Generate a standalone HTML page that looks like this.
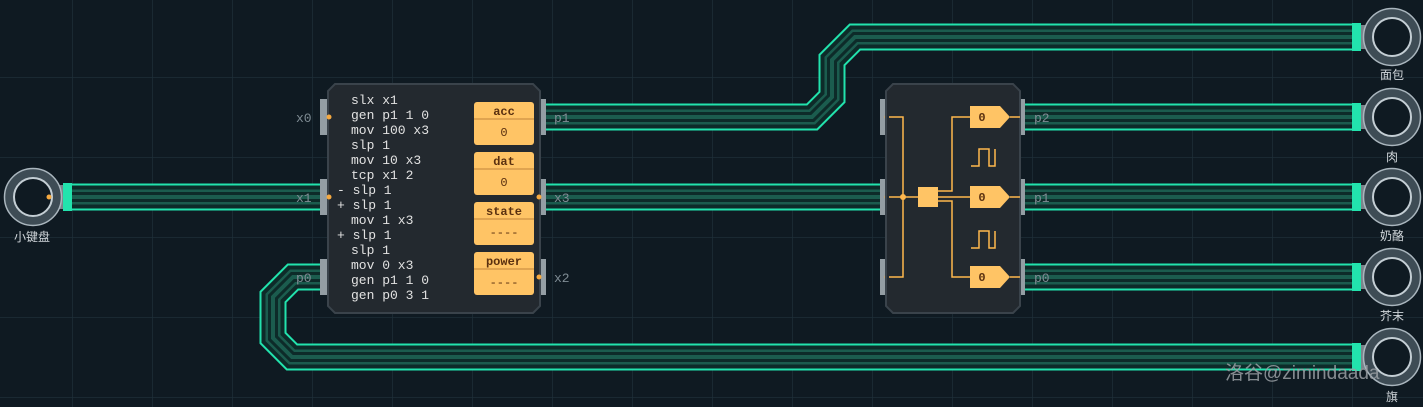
<!DOCTYPE html>
<html><head><meta charset="utf-8"><style>
body{margin:0;background:#0f1a22;width:1423px;height:407px;overflow:hidden}
svg{display:block}
.m{font-family:"Liberation Mono","DejaVu Sans Mono",monospace;font-size:13px;fill:#e2e2e2}
.l{font-family:"Liberation Sans","Noto Sans CJK SC",sans-serif;font-size:12px;fill:#d0d6da}
.p{font-family:"Liberation Mono",monospace;font-size:13px;fill:#7f8c94}
.r{font-family:"Liberation Mono",monospace;font-size:12px;fill:#5a3010;font-weight:bold}
</style></head><body>
<svg width="1423" height="407" xmlns="http://www.w3.org/2000/svg">
<defs>
<pattern id="g" width="80" height="80" patternUnits="userSpaceOnUse" x="-8" y="-3">
<rect width="80" height="80" fill="#0f1a22"/>
<path d="M0 0H80M0 0V80" stroke="#1e2e38" stroke-width="1.5"/>
</pattern>
<g id="ring"><circle r="24" fill="none" stroke="#3e4c55" stroke-width="9"/><circle r="28.5" fill="none" stroke="#aab6be" stroke-width="1.5"/><circle r="19" fill="none" stroke="#c4ced4" stroke-width="2"/></g>
</defs>
<rect width="1423" height="407" fill="url(#g)"/>
<g fill="none" stroke-linejoin="miter">
<path d="M65 197H325M540 197H885M1020 197H1356M540 117H812L832 97V60L855 37H1356M1020 117H1356M1020 277H1356M325 277H293L273 297V338L292 357H1356" stroke="#22e3ad" stroke-width="27"/>
<path d="M65 197H325M540 197H885M1020 197H1356M540 117H812L832 97V60L855 37H1356M1020 117H1356M1020 277H1356M325 277H293L273 297V338L292 357H1356" stroke="#0d2b29" stroke-width="23"/>
<path d="M65 197H325M540 197H885M1020 197H1356M540 117H812L832 97V60L855 37H1356M1020 117H1356M1020 277H1356M325 277H293L273 297V338L292 357H1356" stroke="#1b5c4e" stroke-width="15"/>
<path d="M65 197H325M540 197H885M1020 197H1356M540 117H812L832 97V60L855 37H1356M1020 117H1356M1020 277H1356M325 277H293L273 297V338L292 357H1356" stroke="#0d2b29" stroke-width="10"/>
<path d="M65 197H325M540 197H885M1020 197H1356M540 117H812L832 97V60L855 37H1356M1020 117H1356M1020 277H1356M325 277H293L273 297V338L292 357H1356" stroke="#1b5c4e" stroke-width="4"/>
</g>
<g fill="#22e3ad">
<rect x="63" y="183" width="9" height="28"/>
<rect x="1352" y="23" width="9" height="28"/><rect x="1352" y="103" width="9" height="28"/><rect x="1352" y="183" width="9" height="28"/><rect x="1352" y="263" width="9" height="28"/><rect x="1352" y="343" width="9" height="28"/>
</g>
<g fill="#7a858c">
<rect x="57" y="185" width="6" height="24"/>
<rect x="1361" y="25" width="5" height="24"/><rect x="1361" y="105" width="5" height="24"/><rect x="1361" y="185" width="5" height="24"/><rect x="1361" y="265" width="5" height="24"/><rect x="1361" y="345" width="5" height="24"/>
</g>
<use href="#ring" x="33" y="197"/>
<use href="#ring" x="1392" y="37"/><use href="#ring" x="1392" y="117"/><use href="#ring" x="1392" y="197"/><use href="#ring" x="1392" y="277"/><use href="#ring" x="1392" y="357"/>
<circle cx="49" cy="197" r="2.5" fill="#f5a940"/>
<text class="l" x="14" y="241">小键盘</text>
<text class="l" x="1380" y="79">面包</text>
<text class="l" x="1386" y="161">肉</text>
<text class="l" x="1380" y="240">奶酪</text>
<text class="l" x="1380" y="320">芥末</text>
<text class="l" x="1386" y="401">旗</text>

<g fill="#949ea4"><rect x="320" y="99" width="8" height="36"/><rect x="320" y="179" width="8" height="36"/><rect x="320" y="259" width="8" height="36"/>
<rect x="538" y="99" width="8" height="36"/><rect x="538" y="179" width="8" height="36"/><rect x="538" y="259" width="8" height="36"/>
<rect x="880" y="99" width="8" height="36"/><rect x="880" y="179" width="8" height="36"/><rect x="880" y="259" width="8" height="36"/>
<rect x="1017" y="99" width="8" height="36"/><rect x="1017" y="179" width="8" height="36"/><rect x="1017" y="259" width="8" height="36"/></g>
<polygon points="335,84 533,84 540,91 540,306 533,313 335,313 328,306 328,91" fill="#23292f" stroke="#3a434b" stroke-width="2"/>
<g fill="#f5a940"><circle cx="329" cy="117" r="2.5"/><circle cx="329" cy="197" r="2.5"/><circle cx="539" cy="197" r="2.5"/><circle cx="539" cy="277" r="2.5"/>
<circle cx="887" cy="117" r="2.5"/><circle cx="887" cy="197" r="2.5"/><circle cx="887" cy="277" r="2.5"/></g>
<text class="p" x="296" y="122">x0</text><text class="p" x="296" y="202">x1</text><text class="p" x="296" y="282">p0</text>
<text class="p" x="554" y="122">p1</text><text class="p" x="554" y="202">x3</text><text class="p" x="554" y="282">x2</text>
<text class="p" x="1034" y="122">p2</text><text class="p" x="1034" y="202">p1</text><text class="p" x="1034" y="282">p0</text>
<g class="m">
<text x="351" y="104">slx x1</text>
<text x="351" y="119">gen p1 1 0</text>
<text x="351" y="134">mov 100 x3</text>
<text x="351" y="149">slp 1</text>
<text x="351" y="164">mov 10 x3</text>
<text x="351" y="179">tcp x1 2</text>
<text x="337" y="194">- slp 1</text>
<text x="337" y="209">+ slp 1</text>
<text x="351" y="224">mov 1 x3</text>
<text x="337" y="239">+ slp 1</text>
<text x="351" y="254">slp 1</text>
<text x="351" y="269">mov 0 x3</text>
<text x="351" y="284">gen p1 1 0</text>
<text x="351" y="299">gen p0 3 1</text>
</g>
<g>
<rect x="474" y="102" width="60" height="43" rx="3" fill="#ffc465"/><line x1="474" y1="119" x2="534" y2="119" stroke="#c0843a"/>
<rect x="474" y="152" width="60" height="43" rx="3" fill="#ffc465"/><line x1="474" y1="169" x2="534" y2="169" stroke="#c0843a"/>
<rect x="474" y="202" width="60" height="43" rx="3" fill="#ffc465"/><line x1="474" y1="219" x2="534" y2="219" stroke="#c0843a"/>
<rect x="474" y="252" width="60" height="43" rx="3" fill="#ffc465"/><line x1="474" y1="269" x2="534" y2="269" stroke="#c0843a"/>
</g>
<g class="r" text-anchor="middle">
<text x="504" y="115">acc</text><text x="504" y="136" font-weight="normal">0</text>
<text x="504" y="165">dat</text><text x="504" y="186" font-weight="normal">0</text>
<text x="504" y="215">state</text><text x="504" y="236" font-weight="normal">----</text>
<text x="504" y="265">power</text><text x="504" y="286" font-weight="normal">----</text>
</g>

<polygon points="893,84 1013,84 1020,91 1020,306 1013,313 893,313 886,306 886,91" fill="#23292f" stroke="#3a434b" stroke-width="2"/>
<g fill="none" stroke="#ffb74d" stroke-width="1.5">
<path d="M889 117H903V277H889M889 197H918"/>
<path d="M938 191H952V117H970M938 197H970M938 201H952V277H970"/>
<path d="M1010 117H1020M1010 197H1020M1010 277H1020"/>
<path d="M971 166H979V149H989V166H995V149"/>
<path d="M971 248H979V231H989V248H995V231"/>
</g>
<circle cx="903" cy="197" r="3" fill="#ffb74d"/>
<rect x="918" y="187" width="20" height="20" fill="#ffc465"/>
<g fill="#ffc465">
<polygon points="970,106 1000,106 1010,117 1000,128 970,128"/>
<polygon points="970,186 1000,186 1010,197 1000,208 970,208"/>
<polygon points="970,266 1000,266 1010,277 1000,288 970,288"/>
</g>
<g class="r" text-anchor="middle"><text x="982" y="121">0</text><text x="982" y="201">0</text><text x="982" y="281">0</text></g>

<text x="1225" y="379" font-family="'Liberation Sans','Noto Sans CJK SC',sans-serif" font-size="19" fill="#9aa0a4" fill-opacity="0.85">洛谷@zimindaada</text>
</svg>
</body></html>
